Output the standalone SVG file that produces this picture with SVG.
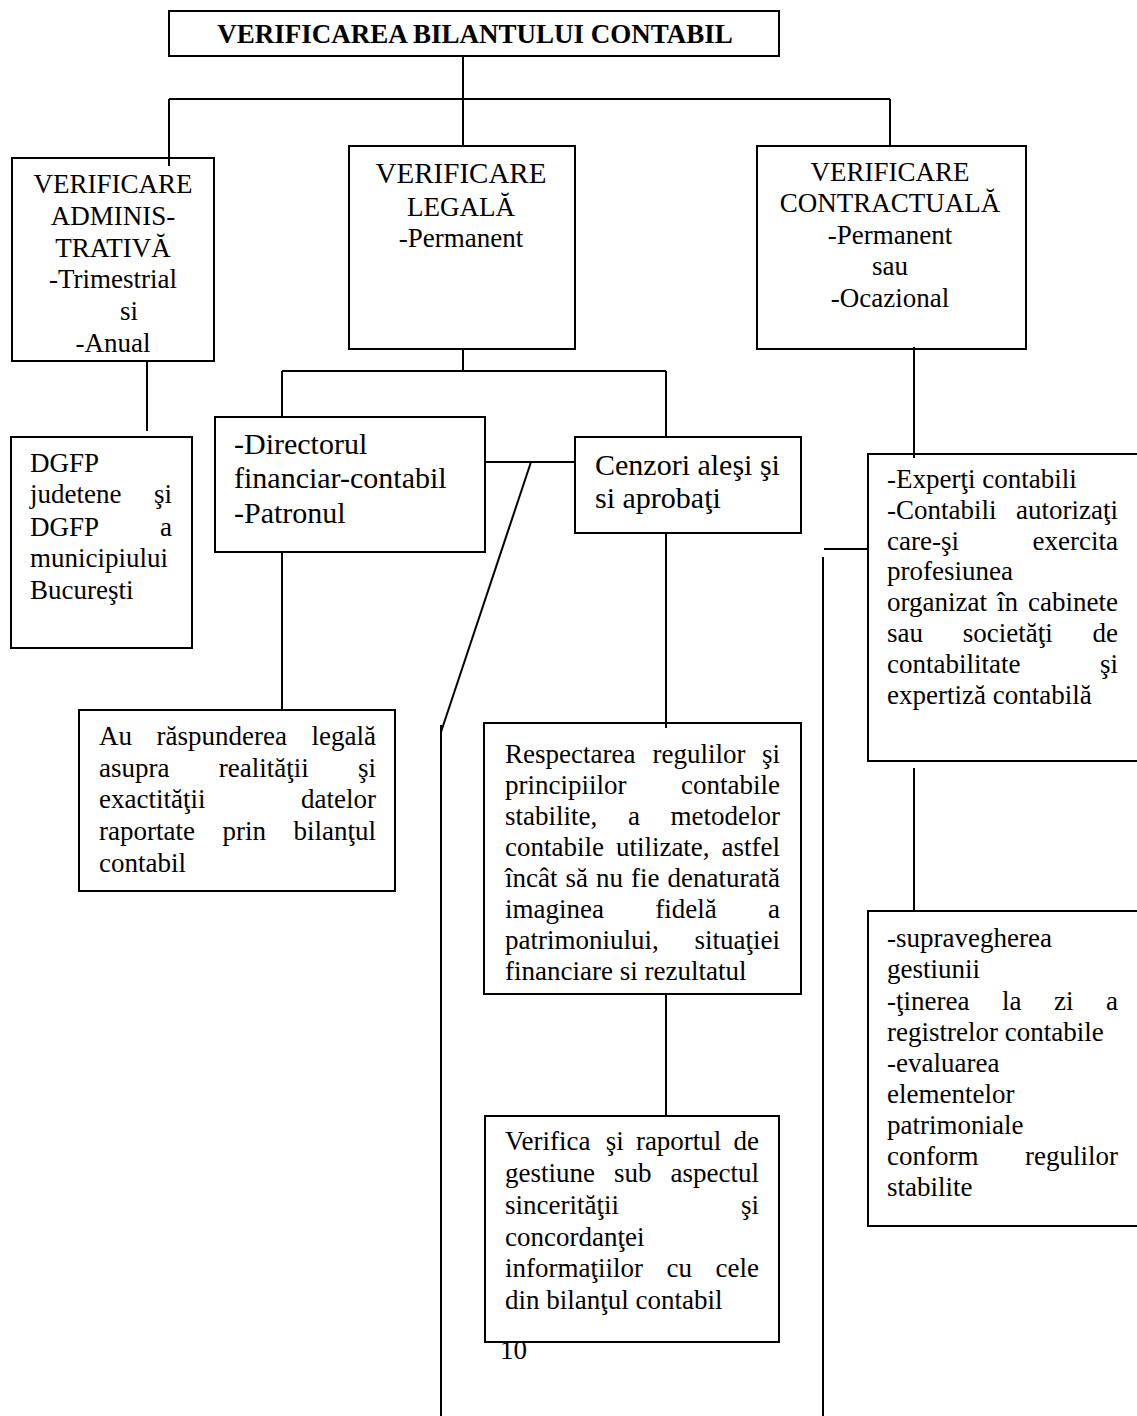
<svg xmlns="http://www.w3.org/2000/svg" width="1137" height="1416" viewBox="0 0 1137 1416">
<style>
.bx{fill:none;stroke:#000;stroke-width:2}
.ln{fill:none;stroke:#000;stroke-width:2}
text{font-family:"Liberation Serif","Times New Roman",serif;font-size:27px;fill:#000}
.c{text-anchor:middle}
.big{font-size:30px}
.t{font-weight:bold;font-size:27px}
</style>
<rect width="1137" height="1416" fill="#fff"/>
<g id="title">
<rect class="bx" x="169" y="11" width="610" height="45"/>
<text class="t c" x="475" y="43">VERIFICAREA BILANTULUI CONTABIL</text>
</g>
<g id="admin">
<rect class="bx" x="12" y="158" width="202" height="203"/>
<text class="c" x="113" y="193">VERIFICARE</text>
<text class="c" x="113" y="225">ADMINIS-</text>
<text class="c" x="113" y="257">TRATIVĂ</text>
<text class="c" x="113" y="288">-Trimestrial</text>
<text class="c" x="129" y="320">si</text>
<text class="c" x="113" y="352">-Anual</text>
</g>
<g id="legal">
<rect class="bx" x="349" y="146" width="226" height="203"/>
<text class="c" x="461" y="183" style="font-size:29px">VERIFICARE</text>
<text class="c" x="461" y="216">LEGALĂ</text>
<text class="c" x="461" y="247">-Permanent</text>
</g>
<g id="contract">
<rect class="bx" x="757" y="146" width="269" height="203"/>
<text class="c" x="890" y="181">VERIFICARE</text>
<text class="c" x="890" y="212">CONTRACTUALĂ</text>
<text class="c" x="890" y="244">-Permanent</text>
<text class="c" x="890" y="275">sau</text>
<text class="c" x="890" y="307">-Ocazional</text>
</g>
<g id="dgfp">
<rect class="bx" x="11" y="437" width="181" height="211"/>
<text x="30" y="472">DGFP</text>
<text y="503"><tspan x="30">judetene</tspan><tspan x="154">şi</tspan></text>
<text y="536"><tspan x="30">DGFP</tspan><tspan x="160">a</tspan></text>
<text x="30" y="567">municipiului</text>
<text x="30" y="599">Bucureşti</text>
</g>
<g id="director">
<rect class="bx" x="215" y="417" width="270" height="135"/>
<text class="big" x="234" y="454">-Directorul</text>
<text class="big" x="234" y="488">financiar-contabil</text>
<text class="big" x="234" y="523">-Patronul</text>
</g>
<g id="cenzori">
<rect class="bx" x="575" y="437" width="226" height="96"/>
<text class="big" x="595" y="475">Cenzori aleşi şi</text>
<text class="big" x="595" y="508">si aprobaţi</text>
</g>
<g id="experti">
<rect class="bx" x="868" y="454" width="280" height="307"/>
<text x="887" y="488">-Experţi contabili</text>
<text y="519"><tspan x="887">-Contabili</tspan><tspan x="1016">autorizaţi</tspan></text>
<text y="550"><tspan x="887">care-şi</tspan><tspan x="1032.5">exercita</tspan></text>
<text x="887" y="580">profesiunea</text>
<text y="611"><tspan x="887">organizat</tspan><tspan x="997">în</tspan><tspan x="1028">cabinete</tspan></text>
<text y="642"><tspan x="887">sau</tspan><tspan x="962.7">societăţi</tspan><tspan x="1092.5">de</tspan></text>
<text y="673"><tspan x="887">contabilitate</tspan><tspan x="1100">şi</tspan></text>
<text x="887" y="704">expertiză contabilă</text>
</g>
<g id="raspundere">
<rect class="bx" x="79" y="710" width="316" height="181"/>
<text y="745"><tspan x="99">Au</tspan><tspan x="156.5">răspunderea</tspan><tspan x="311.5">legală</tspan></text>
<text y="777"><tspan x="99">asupra</tspan><tspan x="218.7">realităţii</tspan><tspan x="358">şi</tspan></text>
<text y="808"><tspan x="99">exactităţii</tspan><tspan x="301">datelor</tspan></text>
<text y="840"><tspan x="99">raportate</tspan><tspan x="222.5">prin</tspan><tspan x="293.5">bilanţul</tspan></text>
<text x="99" y="872">contabil</text>
</g>
<g id="respectare">
<rect class="bx" x="484" y="723" width="317" height="271"/>
<text y="763"><tspan x="505">Respectarea</tspan><tspan x="652.6">regulilor</tspan><tspan x="762">şi</tspan></text>
<text y="794"><tspan x="505">principiilor</tspan><tspan x="681">contabile</tspan></text>
<text y="825"><tspan x="505">stabilite,</tspan><tspan x="627.9">a</tspan><tspan x="670.5">metodelor</tspan></text>
<text y="856"><tspan x="505">contabile</tspan><tspan x="615.9">utilizate,</tspan><tspan x="721.5">astfel</tspan></text>
<text y="887"><tspan x="505">încât</tspan><tspan x="565.5">să</tspan><tspan x="596">nu</tspan><tspan x="631">fie</tspan><tspan x="667.5">denaturată</tspan></text>
<text y="918"><tspan x="505">imaginea</tspan><tspan x="655.2">fidelă</tspan><tspan x="768">a</tspan></text>
<text y="949"><tspan x="505">patrimoniului,</tspan><tspan x="694.5">situaţiei</tspan></text>
<text x="505" y="980">financiare si rezultatul</text>
</g>
<g id="supraveghere">
<rect class="bx" x="868" y="911" width="280" height="315"/>
<text x="887" y="947">-supravegherea</text>
<text x="887" y="978">gestiunii</text>
<text y="1010"><tspan x="887">-ţinerea</tspan><tspan x="1002">la</tspan><tspan x="1054">zi</tspan><tspan x="1106">a</tspan></text>
<text x="887" y="1041">registrelor contabile</text>
<text x="887" y="1072">-evaluarea</text>
<text x="887" y="1103">elementelor</text>
<text x="887" y="1134">patrimoniale</text>
<text y="1165"><tspan x="887">conform</tspan><tspan x="1025">regulilor</tspan></text>
<text x="887" y="1196">stabilite</text>
</g>
<g id="verifica">
<rect class="bx" x="485" y="1116" width="294" height="226"/>
<text y="1150"><tspan x="505">Verifica</tspan><tspan x="605.7">şi</tspan><tspan x="635.9">raportul</tspan><tspan x="733.5">de</tspan></text>
<text y="1182"><tspan x="505">gestiune</tspan><tspan x="614">sub</tspan><tspan x="670.5">aspectul</tspan></text>
<text y="1214"><tspan x="505">sincerităţii</tspan><tspan x="741">şi</tspan></text>
<text x="505" y="1246">concordanţei</text>
<text y="1277"><tspan x="505">informaţiilor</tspan><tspan x="666.5">cu</tspan><tspan x="715.5">cele</tspan></text>
<text x="505" y="1309">din bilanţul contabil</text>
</g>
<text id="page" x="500" y="1359">10</text>
<g id="connectors">
<path class="ln" d="M463 56V146M169 99H890M169 99V166M890 99V146"/>
<path class="ln" d="M147 361V431"/>
<path class="ln" d="M463 349V371M282 371H666M282 371V417M666 371V437"/>
<path class="ln" d="M914 347V458M914 768V911"/>
<path class="ln" d="M282 552V710M666 533V728M666 994V1116"/>
<path class="ln" d="M485 462H575M531 462L441 732M441 725V1416"/>
<path class="ln" d="M824 549H868M823 557V1416"/>
</g>
</svg>
